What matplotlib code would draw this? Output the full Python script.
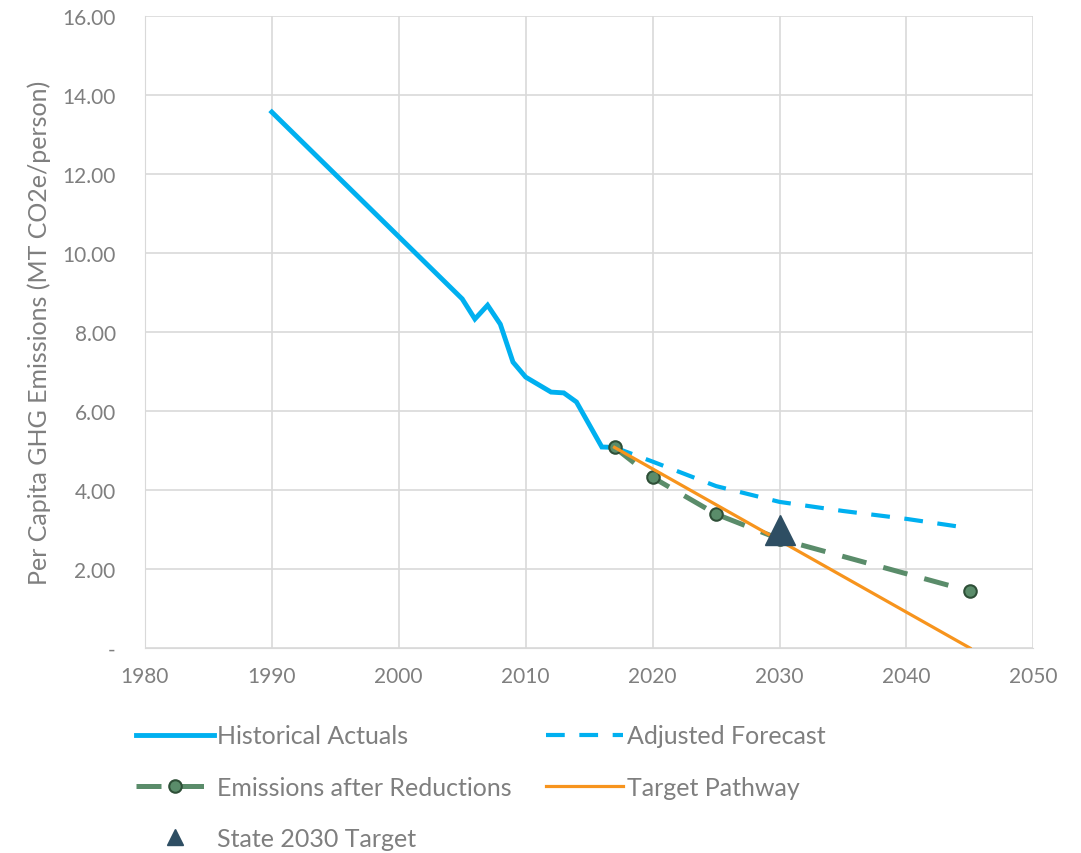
import numpy as np
import matplotlib
matplotlib.use("Agg")
import matplotlib.pyplot as plt

plt.rcParams.update({"font.family": ["Lato", "DejaVu Sans"], "figure.dpi": 100})
GRAY = "#7F7F7F"; GRID = "#D9D9D9"
BLUE = "#00B0F0"; GREEN = "#5A8C6A"; GREEN_E = "#2E4F37"; ORANGE = "#F7941D"; NAVY = "#2E4E63"

# data
hist_years = [1990, 2005, 2006, 2007, 2008, 2009, 2010, 2011, 2012, 2013, 2014, 2015, 2016, 2017]
hist_vals = [13.57, 8.84, 8.33, 8.68, 8.20, 7.24, 6.86, 6.67, 6.48, 6.46, 6.23, 5.66, 5.09, 5.08]
fc_years = [2017, 2020, 2025, 2030, 2035, 2040, 2044]
fc_vals = [5.08, 4.72, 4.10, 3.70, 3.47, 3.27, 3.08]
red_years = [2017, 2020, 2025, 2030, 2045]
red_vals = [5.08, 4.32, 3.39, 2.76, 1.44]
tgt_years = [2017, 2045]
tgt_vals = [5.08, 0.0]
state_year = [2030]
state_val = [3.0]

fig = plt.figure(figsize=(10.81, 8.54))
ax = fig.add_axes([0.134, 0.240, 0.822, 0.740])

l1, = ax.plot(hist_years, hist_vals, color=BLUE, lw=3.5, solid_joinstyle="miter", label="Historical Actuals")
l2, = ax.plot(fc_years, fc_vals, color=BLUE, lw=3.0, dashes=(4.5, 3.5), label="Adjusted Forecast")
l3, = ax.plot(red_years, red_vals, color=GREEN, lw=3.6, dashes=(5, 3.5), marker="o", ms=9,
              mfc=GREEN, mec=GREEN_E, mew=1.5, label="Emissions after Reductions")
l4, = ax.plot(tgt_years, tgt_vals, color=ORANGE, lw=2.3, label="Target Pathway")
l5, = ax.plot(state_year, state_val, ls="none", marker="^", ms=22, color=NAVY, label="State 2030 Target")

ax.set_xlim(1980, 2050); ax.set_ylim(0, 16)
ax.set_xticks(np.arange(1980, 2051, 10))
ax.set_yticks(np.arange(0, 16.1, 2))
ax.set_yticklabels(["-"] + [f"{v:.2f}" for v in np.arange(2, 16.1, 2)])
ax.grid(color=GRID, lw=1.2); ax.set_axisbelow(True)
for s in ["top", "right"]: ax.spines[s].set_visible(False)
for s in ["left", "bottom"]: ax.spines[s].set_color(GRID)
ax.tick_params(length=0, colors=GRAY, labelsize=15)
ax.tick_params(axis="y", pad=21); ax.tick_params(axis="x", pad=13)
ax.set_ylabel("Per Capita GHG Emissions (MT CO2e/person)", color=GRAY, fontsize=18, labelpad=8)

hs = [l1, l3, l5, l2, l4]
leg = fig.legend(hs, [h.get_label() for h in hs],
                 ncol=2, loc="upper left", bbox_to_anchor=(0.105, 0.177), frameon=False,
                 fontsize=18, handlelength=3.1, handletextpad=0.15, columnspacing=1.35,
                 labelspacing=1.13, labelcolor=GRAY)
leg.legend_handles[2].set_markersize(11)
fig.savefig("out.png")
